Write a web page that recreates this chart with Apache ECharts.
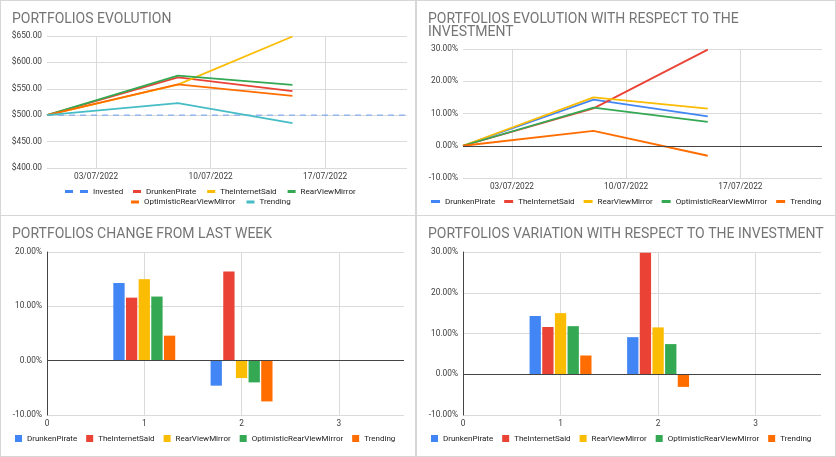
<!DOCTYPE html>
<html>
<head>
<meta charset="utf-8">
<script src="https://cdn.jsdelivr.net/npm/echarts@6/dist/echarts.min.js"></script>
<style>
  body {
    margin: 0;
    width: 836px;
    height: 457px;
    background: #d6d6d6;
    position: relative;
    overflow: hidden;
  }
  .panel {
    position: absolute;
    background: #ffffff;
  }
  #p1 { left: 1px; top: 1px; width: 414px; height: 214px; }
  #p2 { left: 417px; top: 1px; width: 418px; height: 214px; }
  #p3 { left: 1px; top: 216px; width: 414px; height: 240px; }
  #p4 { left: 417px; top: 216px; width: 418px; height: 240px; }
</style>
</head>
<body>
<div class="panel" id="p1"></div>
<div class="panel" id="p2"></div>
<div class="panel" id="p3"></div>
<div class="panel" id="p4"></div>
<script>
// dates of the snapshots, the last one only carries the invested line
const dates = ["2022-06-30", "2022-07-08", "2022-07-15", "2022-07-22"]
const tickDates = ["2022-07-03", "2022-07-10", "2022-07-17"]

// portfolio value ($)
const investedValue = [500, 500, 500, 500]
const drunkenPirateValue = [500, 571.5, 545.5]
const theInternetSaidValue = [500, 558, 649]
const rearViewMirrorValue = [500, 575, 557.5]
const optimisticValue = [500, 558.5, 536.5]
const trendingValue = [500, 523, 485]

// evolution with respect to the investment (%)
const drunkenPiratePct = [0, 14.3, 9.1]
const theInternetSaidPct = [0, 11.6, 29.8]
const rearViewMirrorPct = [0, 15.0, 11.5]
const optimisticPct = [0, 11.8, 7.4]
const trendingPct = [0, 4.6, -3.1]

// weekly bars
const weeks = [1, 2]
const weekTicks = [0, 1, 2, 3]
const drunkenPirateChange = [14.3, -4.6]
const theInternetSaidChange = [11.6, 16.4]
const rearViewMirrorChange = [15.0, -3.2]
const optimisticChange = [11.8, -4.0]
const trendingChange = [4.6, -7.5]

const drunkenPirateVariation = [14.3, 9.1]
const theInternetSaidVariation = [11.6, 29.8]
const rearViewMirrorVariation = [15.0, 11.5]
const optimisticVariation = [11.8, 7.4]
const trendingVariation = [4.6, -3.1]

const BLUE = "#4285F4"
const RED = "#EA4335"
const YELLOW = "#FBBC04"
const GREEN = "#34A853"
const ORANGE = "#FF6D01"
const CYAN = "#46BDC6"

const font = "Roboto, sans-serif"
const axisText = { color: "#3c3c3c", fontSize: 8.3, fontFamily: font }
const legendText = { color: "#222222", fontSize: 8, fontFamily: font }
const gridLine = { show: true, lineStyle: { color: "#dadada", width: 1, type: "solid" } }

const pad = (n) => (n < 10 ? "0" + n : "" + n)
const dateLabel = (v) => {
  const d = new Date(v)
  return pad(d.getUTCDate()) + "/" + pad(d.getUTCMonth() + 1) + "/" + d.getUTCFullYear()
}
const pct = (v) => v.toFixed(2) + "%"
const dayStamps = dates.map((d) => Date.parse(d))
const tickStamps = tickDates.map((d) => Date.parse(d))

const titleOf = (text) => ({
  text: text,
  left: 11,
  top: 11.5,
  padding: 0,
  textStyle: { color: "#757575", fontSize: 14, fontWeight: "normal", fontFamily: font, lineHeight: 13 }
})

// dates on a plain value axis (ms), ticks only on the sundays
const dateAxis = {
  type: "value",
  min: dayStamps[0],
  max: dayStamps[3],
  axisLine: { show: false },
  axisTick: { show: false, customValues: tickStamps },
  axisLabel: { ...axisText, margin: 5, customValues: tickStamps, formatter: dateLabel },
  splitLine: gridLine
}

const lineOf = (name, color, values) => ({
  name: name,
  type: "line",
  data: values.map((v, i) => [dayStamps[i], v]),
  showSymbol: false,
  symbol: "none",
  color: color,
  lineStyle: { color: color, width: 1.8 }
})

const zeroLine = {
  silent: true,
  symbol: "none",
  label: { show: false },
  lineStyle: { color: "#444444", width: 1, type: "solid" },
  data: [{ yAxis: 0 }]
}

// 1. portfolios evolution
const chart1 = echarts.init(document.getElementById("p1"))
const invested = lineOf("Invested", BLUE, investedValue)
invested.lineStyle = { color: BLUE, width: 1.3, type: [6, 5], opacity: 0.6 }
chart1.setOption({
  animation: false,
  title: titleOf("PORTFOLIOS EVOLUTION"),
  grid: { left: 46, right: 8, top: 35, bottom: 47, outerBoundsMode: "none" },
  legend: [
    {
      data: [{ name: "Invested", icon: "path://M0,0h8v3h-8z M15,0h8v3h-8z" }],
      left: 64, top: 186.5, padding: 0,
      itemWidth: 23, itemHeight: 3, textStyle: legendText
    },
    {
      data: ["DrunkenPirate", "TheInternetSaid", "RearViewMirror"],
      left: 132, top: 186.5, padding: 0, icon: "rect",
      itemWidth: 8, itemHeight: 3, itemGap: 11, textStyle: legendText
    },
    {
      data: ["OptimisticRearViewMirror", "Trending"],
      left: 130, top: 197, padding: 0, icon: "rect",
      itemWidth: 8, itemHeight: 3, itemGap: 11, textStyle: legendText
    }
  ],
  xAxis: dateAxis,
  yAxis: {
    type: "value",
    min: 400,
    max: 650,
    interval: 50,
    axisLine: { show: false },
    axisTick: { show: false },
    axisLabel: { ...axisText, margin: 5, formatter: (v) => "$" + v.toFixed(2) },
    splitLine: gridLine
  },
  series: [
    invested,
    lineOf("DrunkenPirate", RED, drunkenPirateValue),
    lineOf("TheInternetSaid", YELLOW, theInternetSaidValue),
    lineOf("RearViewMirror", GREEN, rearViewMirrorValue),
    lineOf("OptimisticRearViewMirror", ORANGE, optimisticValue),
    lineOf("Trending", CYAN, trendingValue)
  ]
})

// 2. evolution with respect to the investment
const chart2 = echarts.init(document.getElementById("p2"))
const dpLine = lineOf("DrunkenPirate", BLUE, drunkenPiratePct)
dpLine.markLine = zeroLine
chart2.setOption({
  animation: false,
  title: titleOf("PORTFOLIOS EVOLUTION WITH RESPECT TO THE\nINVESTMENT"),
  grid: { left: 46, right: 13, top: 48, bottom: 37, outerBoundsMode: "none" },
  legend: {
    left: 14, top: 196.5, padding: 0, icon: "rect",
    itemWidth: 9, itemHeight: 3, itemGap: 9, textStyle: legendText
  },
  xAxis: dateAxis,
  yAxis: {
    type: "value",
    min: -10,
    max: 30,
    interval: 10,
    axisLine: { show: false },
    axisTick: { show: false },
    axisLabel: { ...axisText, margin: 5, formatter: pct },
    splitLine: gridLine
  },
  series: [
    dpLine,
    lineOf("TheInternetSaid", RED, theInternetSaidPct),
    lineOf("RearViewMirror", YELLOW, rearViewMirrorPct),
    lineOf("OptimisticRearViewMirror", GREEN, optimisticPct),
    lineOf("Trending", ORANGE, trendingPct)
  ]
})

// 3 & 4. weekly bars
const barOf = (name, color, values) => ({
  name: name,
  type: "bar",
  data: values.map((v, i) => [weeks[i], v]),
  barWidth: 11.3,
  barGap: "12%",
  itemStyle: { color: color }
})

const barOption = (title, min, max, list) => {
  const series = list.map((s) => barOf(s[0], s[1], s[2]))
  series[0].markLine = zeroLine
  return {
    animation: false,
    title: titleOf(title),
    grid: { left: 46, right: 11, top: 36, bottom: 41, outerBoundsMode: "none" },
    legend: {
      left: 14, top: 218.5, padding: 0, icon: "rect",
      itemWidth: 7, itemHeight: 7, itemGap: 9, textStyle: legendText
    },
    xAxis: {
      type: "value",
      min: 0,
      max: 3.67,
      axisLine: { show: false },
      axisTick: { show: false, customValues: weekTicks },
      axisLabel: { ...axisText, margin: 5, customValues: weekTicks },
      splitLine: gridLine
    },
    yAxis: {
      type: "value",
      min: min,
      max: max,
      interval: 10,
      axisLine: { show: true, onZero: false, lineStyle: { color: "#444444", width: 1 } },
      axisTick: { show: false },
      axisLabel: { ...axisText, margin: 5, formatter: pct },
      splitLine: gridLine
    },
    series: series
  }
}

const chart3 = echarts.init(document.getElementById("p3"))
chart3.setOption(barOption("PORTFOLIOS CHANGE FROM LAST WEEK", -10, 20, [
  ["DrunkenPirate", BLUE, drunkenPirateChange],
  ["TheInternetSaid", RED, theInternetSaidChange],
  ["RearViewMirror", YELLOW, rearViewMirrorChange],
  ["OptimisticRearViewMirror", GREEN, optimisticChange],
  ["Trending", ORANGE, trendingChange]
]))

const chart4 = echarts.init(document.getElementById("p4"))
const opt4 = barOption("PORTFOLIOS VARIATION WITH RESPECT TO THE INVESTMENT", -10, 30, [
  ["DrunkenPirate", BLUE, drunkenPirateVariation],
  ["TheInternetSaid", RED, theInternetSaidVariation],
  ["RearViewMirror", YELLOW, rearViewMirrorVariation],
  ["OptimisticRearViewMirror", GREEN, optimisticVariation],
  ["Trending", ORANGE, trendingVariation]
])
opt4.grid.right = 14
chart4.setOption(opt4)
</script>
</body>
</html>
